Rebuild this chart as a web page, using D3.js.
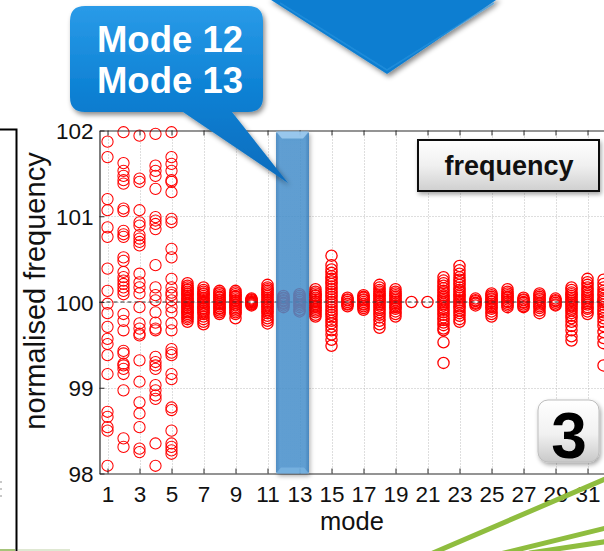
<!DOCTYPE html>
<html>
<head>
<meta charset="utf-8">
<script src="https://cdn.jsdelivr.net/npm/d3@7"></script>
<style>
  html, body { margin: 0; padding: 0; background: #fff; }
  svg { display: block; font-family: "Liberation Sans", Arial, Helvetica, sans-serif; }
</style>
</head>
<body>
<svg id="chart" width="604" height="551"></svg>
<script>
// Normalised frequency (%) of each identified mode across all runs
const modes = [1,2,3,4,5,6,7,8,9,10,11,12,13,14,15,16,17,18,19,20,21,22,23,24,25,26,27,28,29,30,31,32];

const m1 = [101.87,101.69,101.20,101.07,100.87,100.76,100.39,100.13,99.98,99.87,99.71,99.57,99.51,99.38,99.16,98.72,98.66,98.54,98.50,98.09];
const m2 = [101.98,101.62,101.53,101.47,101.42,101.38,101.09,101.06,100.83,100.79,100.76,100.52,100.48,100.35,100.29,100.25,100.21,100.17,100.13,100.09,99.86,99.78,99.67,99.43,99.40,99.28,99.26,99.22,99.16,98.97,98.41,98.31];
const m3 = [101.94,101.44,101.40,101.07,100.93,100.89,100.78,100.74,100.70,100.66,100.33,100.23,100.17,100.10,99.94,99.75,99.69,99.63,99.61,99.32,99.07,98.83,98.70,98.54,98.29,98.25];
const m4 = [101.96,101.59,101.53,101.47,101.32,100.99,100.95,100.91,100.85,100.43,100.17,100.08,100.02,99.88,99.76,99.69,99.67,99.36,99.30,99.26,99.22,99.03,98.97,98.91,98.87,98.35,98.09];
const m5 = [101.98,101.69,101.61,101.53,101.42,101.40,101.28,100.97,100.93,100.62,100.52,100.27,100.17,100.11,100.08,100.02,99.94,99.88,99.75,99.67,99.45,99.41,99.38,99.16,99.10,98.77,98.74,98.50,98.35,98.31,98.27,98.23];
const m6 = [100.22,100.19,100.17,100.15,100.14,100.12,100.10,100.09,100.07,100.05,100.04,100.02,100.01,99.99,99.98,99.96,99.94,99.93,99.91,99.89,99.88,99.86,99.84,99.82,99.80,99.77];
const m7 = [100.17,100.14,100.12,100.10,100.09,100.07,100.05,100.04,100.02,100.00,99.99,99.97,99.95,99.93,99.92,99.90,99.88,99.86,99.83,99.80,99.77,99.74];
const m8 = [100.13,100.11,100.10,100.08,100.06,100.05,100.03,100.02,100.00,99.98,99.97,99.95,99.93,99.92,99.90,99.88,99.86];
const m9 = [100.13,100.11,100.09,100.07,100.06,100.04,100.02,100.01,99.99,99.97,99.96,99.94,99.92,99.90,99.88,99.86,99.81];
const m10 = [100.04,100.03,100.02,100.01,100.00,99.99,99.98,99.97,99.96];
const m11 = [100.20,100.17,100.15,100.13,100.11,100.09,100.07,100.05,100.03,100.01,99.99,99.97,99.95,99.93,99.91,99.89,99.87,99.84,99.81,99.78,99.75];
const m12 = [100.07,100.05,100.04,100.02,100.01,99.99,99.98,99.96,99.94];
const m13 = [100.09,100.07,100.05,100.03,100.02,100.00,99.98,99.96,99.94,99.91,99.89];
const m14 = [100.15,100.12,100.10,100.08,100.07,100.05,100.03,100.01,100.00,99.98,99.96,99.94,99.92,99.90,99.88,99.85,99.83];
const m15 = [100.54,100.43,100.38,100.34,100.30,100.27,100.24,100.21,100.18,100.15,100.12,100.09,100.06,100.03,100.00,99.97,99.94,99.91,99.88,99.85,99.82,99.78,99.75,99.71,99.67,99.62,99.56,99.49];
const m16 = [100.05,100.03,100.02,100.00,99.98,99.97,99.95];
const m17 = [100.08,100.06,100.05,100.03,100.02,100.00,99.98,99.97,99.95,99.93,99.91];
const m18 = [100.20,100.17,100.14,100.12,100.10,100.08,100.06,100.04,100.02,100.00,99.98,99.96,99.93,99.91,99.88,99.85,99.82,99.78,99.74,99.70];
const m19 = [100.15,100.12,100.10,100.08,100.06,100.04,100.02,100.00,99.98,99.96,99.94,99.92,99.89,99.86,99.83];
const m20 = [100.00];
const m21 = [100.00];
const m22 = [100.29,100.25,100.22,100.19,100.16,100.13,100.11,100.08,100.06,100.04,100.02,100.00,99.98,99.96,99.93,99.91,99.88,99.85,99.82,99.79,99.76,99.73,99.69,99.67,99.53,99.29];
const m23 = [100.42,100.37,100.33,100.29,100.26,100.23,100.20,100.17,100.14,100.12,100.09,100.07,100.05,100.02,100.00,99.98,99.95,99.93,99.90,99.87,99.84,99.80,99.77];
const m24 = [100.04,100.02,100.01,99.99,99.98,99.96];
const m25 = [100.10,100.08,100.06,100.04,100.03,100.01,100.00,99.98,99.96,99.94,99.92,99.89,99.86,99.83];
const m26 = [100.15,100.12,100.10,100.08,100.06,100.05,100.03,100.01,100.00,99.98,99.96,99.94];
const m27 = [100.05,100.03,100.02,100.00,99.99,99.97,99.95,99.94];
const m28 = [100.10,100.08,100.06,100.04,100.03,100.01,99.99,99.97,99.95,99.93,99.90,99.87];
const m29 = [100.04,100.02,100.01,99.99,99.97,99.96];
const m30 = [100.17,100.14,100.11,100.09,100.07,100.05,100.03,100.01,99.99,99.97,99.95,99.92,99.90,99.87,99.84,99.81,99.77,99.72,99.67,99.60,99.55];
const m31 = [100.27,100.23,100.20,100.17,100.14,100.12,100.09,100.07,100.05,100.03,100.01,99.99,99.97,99.94,99.92,99.89,99.86];
const m32 = [100.26,100.21,100.17,100.13,100.10,100.07,100.04,100.02,100.00,99.97,99.94,99.91,99.88,99.85,99.81,99.77,99.72,99.65,99.58,99.52,99.26];

const series = [m1,m2,m3,m4,m5,m6,m7,m8,m9,m10,m11,m12,m13,m14,m15,m16,m17,m18,m19,m20,m21,m22,m23,m24,m25,m26,m27,m28,m29,m30,m31,m32];

const xTicks = [1,3,5,7,9,11,13,15,17,19,21,23,25,27,29,31];
const yTicks = [98,99,100,101,102];
const referenceValue = 100;
const highlightModes = [12, 13];

const xLabel = "mode";
const yLabel = "normalised frequency";
const panelTitle = "frequency";
const panelNumber = "3";

// ---- layout ----
const svg = d3.select("#chart");
const plot = { left: 99.5, top: 130.5, right: 611.5, bottom: 473.5 };

const x = d3.scaleLinear().domain([0.5, 32.5]).range([plot.left, plot.right]);
const y = d3.scaleLinear().domain([98, 102]).range([plot.bottom, plot.top]);

const defs = svg.append("defs");
function shadow(id, dx, dy, blur, op) {
  const f = defs.append("filter").attr("id", id)
    .attr("x", "-30%").attr("y", "-30%").attr("width", "160%").attr("height", "160%");
  f.append("feDropShadow").attr("dx", dx).attr("dy", dy)
    .attr("stdDeviation", blur).attr("flood-color", "#000").attr("flood-opacity", op);
}
shadow("sh", 2, 3, 2.5, 0.45);
shadow("shSoft", 1.5, 2.5, 2, 0.35);

function vGrad(id, stops) {
  const g = defs.append("linearGradient").attr("id", id)
    .attr("x1", 0).attr("y1", 0).attr("x2", 0).attr("y2", 1);
  stops.forEach(([o, c]) => g.append("stop").attr("offset", o).attr("stop-color", c));
}
vGrad("calloutFill", [[0, "#2a9be8"], [0.5, "#0c80d3"], [1, "#0a6cbd"]]);
vGrad("greyFill", [[0, "#ffffff"], [0.5, "#f0f0f0"], [1, "#cfcfcf"]]);
vGrad("badgeFill", [[0, "#ffffff"], [0.55, "#f1f1f1"], [1, "#c9c9c9"]]);
const hb = defs.append("linearGradient").attr("id", "bandFill")
  .attr("x1", 0).attr("y1", 0).attr("x2", 1).attr("y2", 0);
[[0, "#2a74b6"], [0.12, "#4792d0"], [0.88, "#4792d0"], [1, "#2a74b6"]]
  .forEach(([o, c]) => hb.append("stop").attr("offset", o).attr("stop-color", c));

// ---- grid ----
const grid = svg.append("g").attr("stroke", "#bdbdbd").attr("stroke-width", 1)
  .attr("stroke-dasharray", "1,2").attr("fill", "none");
grid.selectAll("line.v").data(xTicks).join("line")
  .attr("x1", d => Math.round(x(d)) + 0.5).attr("x2", d => Math.round(x(d)) + 0.5)
  .attr("y1", plot.top).attr("y2", plot.bottom);
grid.selectAll("line.h").data(yTicks.filter(d => d !== 98 && d !== 102)).join("line")
  .attr("x1", plot.left).attr("x2", plot.right)
  .attr("y1", d => Math.round(y(d)) + 0.5).attr("y2", d => Math.round(y(d)) + 0.5);

// ---- scatter of circles ----
const points = [];
series.forEach((vals, i) => vals.forEach(v => points.push({ mode: modes[i], value: v })));
svg.append("g").selectAll("circle").data(points).join("circle")
  .attr("cx", d => x(d.mode)).attr("cy", d => y(d.value)).attr("r", 5.6)
  .attr("fill", "none").attr("stroke", "#ff0000")
  .attr("stroke-width", d => d.mode > 5 ? 1.3 : 1.05);

// reference line at 100 %
svg.append("line")
  .attr("x1", plot.left).attr("x2", plot.right)
  .attr("y1", y(referenceValue)).attr("y2", y(referenceValue))
  .attr("stroke", "#333").attr("stroke-width", 1.2).attr("stroke-dasharray", "4,3");

// ---- axes ----
const axisFont = 22.5;
const gx = svg.append("g").attr("transform", `translate(0,${plot.bottom})`)
  .call(d3.axisBottom(x).tickValues(xTicks).tickFormat(d3.format("d"))
    .tickSize(-5).tickSizeOuter(0).tickPadding(12.5));
const gxTop = svg.append("g").attr("transform", `translate(0,${plot.top})`)
  .call(d3.axisTop(x).tickValues(xTicks).tickFormat("").tickSize(-5).tickSizeOuter(0));
const gy = svg.append("g").attr("transform", `translate(${plot.left},0)`)
  .call(d3.axisLeft(y).tickValues(yTicks).tickFormat(d3.format("d"))
    .tickSize(-5).tickSizeOuter(0).tickPadding(6));
[gx, gxTop, gy].forEach(g => {
  g.select(".domain").attr("stroke", "#2b2b2b").attr("stroke-width", 1.2);
  g.selectAll(".tick line").attr("stroke", "#2b2b2b");
  g.selectAll("text").attr("font-size", axisFont).attr("fill", "#111")
    .attr("font-family", "'Liberation Sans', Arial, sans-serif");
});
gy.selectAll("text").attr("dy", "0.36em");

svg.append("text").attr("x", 352).attr("y", 530).attr("text-anchor", "middle")
  .attr("font-size", 25.5).attr("fill", "#111").text(xLabel);
svg.append("text").attr("transform", "translate(45,291) rotate(-90)")
  .attr("text-anchor", "middle").attr("font-size", 29).attr("fill", "#111").text(yLabel);

// ---- highlighted modes band ----
const bx0 = x(highlightModes[0] - 0.5) + 0.5;
const bx1 = x(highlightModes[highlightModes.length - 1] + 0.5) + 1.5;
const band = svg.append("g").attr("filter", "url(#shSoft)");
band.append("rect").attr("x", bx0).attr("y", plot.top + 1).attr("width", bx1 - bx0)
  .attr("height", plot.bottom - plot.top - 1).attr("rx", 2)
  .attr("fill", "url(#bandFill)").attr("opacity", 0.8);
band.append("path")
  .attr("d", `M${bx0},${plot.top + 1}H${bx1}L${bx1 - 6},${plot.top + 8}H${bx0 + 6}Z`)
  .attr("fill", "#a9d3f3").attr("opacity", 0.75);
band.append("path")
  .attr("d", `M${bx0},${plot.bottom}H${bx1}L${bx1 - 5},${plot.bottom - 6}H${bx0 + 5}Z`)
  .attr("fill", "#86bde8").attr("opacity", 0.6);

// ---- callout naming the highlighted modes ----
const call = svg.append("g").attr("filter", "url(#sh)");
call.append("path")
  .attr("d", "M85,6H248Q263,6 263,21V97Q263,112 248,112H232L288,183L183,112H85Q70,112 70,97V21Q70,6 85,6Z")
  .attr("fill", "url(#calloutFill)");
svg.append("g").selectAll("text").data(highlightModes).join("text")
  .attr("x", 170).attr("y", (d, i) => 52 + i * 41).attr("text-anchor", "middle")
  .attr("font-size", 36.5).attr("font-weight", "bold").attr("fill", "#fff")
  .text(d => `Mode ${d}`);

// arrow head pointing down into the chart
const arrow = svg.append("g").attr("filter", "url(#sh)");
arrow.append("path").attr("d", "M268,-2H499L387,74Z").attr("fill", "#0b7ed1");
arrow.append("path").attr("d", "M280,3L387,70L494,3").attr("fill", "none")
  .attr("stroke", "#2c95df").attr("stroke-width", 1.5).attr("opacity", 0.6);

// panel title box
const tb = svg.append("g");
tb.append("rect").attr("x", 418).attr("y", 140).attr("width", 181).attr("height", 51)
  .attr("fill", "url(#greyFill)").attr("stroke", "#111").attr("stroke-width", 2)
  .attr("filter", "url(#shSoft)");
tb.append("text").attr("x", 509).attr("y", 175).attr("text-anchor", "middle")
  .attr("font-size", 27).attr("font-weight", "bold").attr("fill", "#111").text(panelTitle);

// panel number badge
const bd = svg.append("g");
bd.append("rect").attr("x", 538).attr("y", 400).attr("width", 61).attr("height", 62).attr("rx", 10)
  .attr("fill", "url(#badgeFill)").attr("stroke", "#bdbdbd").attr("stroke-width", 1)
  .attr("filter", "url(#shSoft)");
bd.append("text").attr("x", 569).attr("y", 458).attr("text-anchor", "middle")
  .attr("font-size", 64).attr("font-weight", "bold").attr("fill", "#000").text(panelNumber);

// slide frame and decorative green strokes
svg.append("path").attr("d", "M0,129.5H16.5V553").attr("fill", "none")
  .attr("stroke", "#000").attr("stroke-width", 2);
svg.append("g").attr("fill", "#c8c8c8").selectAll("rect").data([481, 488, 495]).join("rect")
  .attr("x", 0).attr("y", d => d).attr("width", 2).attr("height", 2);
const green = svg.append("g").attr("stroke", "#8fbd3f").attr("stroke-width", 5)
  .attr("stroke-linecap", "round").attr("fill", "none");
green.append("line").attr("x1", 426).attr("y1", 556).attr("x2", 610).attr("y2", 477);
green.append("line").attr("x1", 500).attr("y1", 554).attr("x2", 610).attr("y2", 527);
green.append("line").attr("x1", 530).attr("y1", 553).attr("x2", 610).attr("y2", 541);
svg.append("line").attr("x1", 0).attr("x2", 15).attr("y1", 550).attr("y2", 550)
  .attr("stroke", "#a6c47a").attr("stroke-width", 2);
svg.append("line").attr("x1", 18).attr("x2", 70).attr("y1", 550).attr("y2", 550)
  .attr("stroke", "#dfe8d2").attr("stroke-width", 2);
</script>
</body>
</html>
